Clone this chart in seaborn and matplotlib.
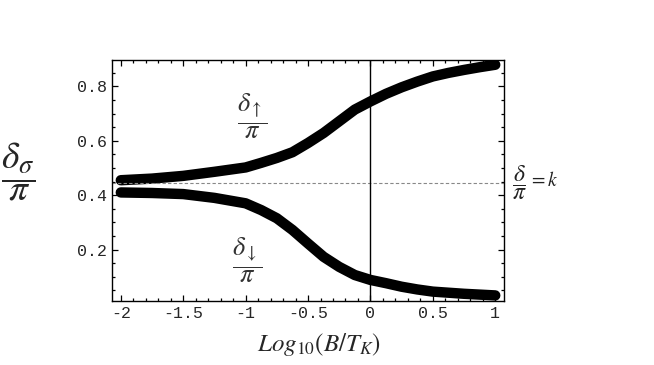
import matplotlib
matplotlib.use("Agg")
import matplotlib.pyplot as plt
from matplotlib.ticker import MultipleLocator
import seaborn as sns
import pandas as pd

# values
log_b = [-2.0, -1.75, -1.5, -1.25, -1.0, -0.875, -0.75, -0.625, -0.5, -0.375, -0.25, -0.125,
         0.0, 0.125, 0.25, 0.375, 0.5, 0.625, 0.75, 0.875, 1.0]
delta_up = [0.455, 0.461, 0.471, 0.486, 0.502, 0.519, 0.537, 0.558, 0.592, 0.629, 0.672, 0.715,
            0.745, 0.773, 0.797, 0.818, 0.837, 0.85, 0.861, 0.871, 0.88]
delta_down = [0.41, 0.408, 0.404, 0.39, 0.37, 0.345, 0.315, 0.272, 0.222, 0.173, 0.136, 0.106,
              0.088, 0.076, 0.063, 0.053, 0.045, 0.041, 0.037, 0.034, 0.031]
k_level = 0.445

x_ticks = [-2, -1.5, -1, -0.5, 0, 0.5, 1]
x_tick_labels = ["-2", "-1.5", "-1", "-0.5", "0", "0.5", "1"]
y_ticks = [0.2, 0.4, 0.6, 0.8]
y_tick_labels = ["0.2", "0.4", "0.6", "0.8"]

sns.set_style("ticks")
plt.rcParams["mathtext.fontset"] = "stix"
plt.rcParams["font.family"] = ["DejaVu Sans"]

df = pd.DataFrame({"x": log_b, "up": delta_up, "down": delta_down})

fig = plt.figure(figsize=(6.54, 3.65), dpi=100)
ax = fig.add_axes([0.171, 0.175, 0.600, 0.661])

# dicke Kurven
for col in ["up", "down"]:
    sns.lineplot(data=df, x="x", y=col, color="black", lw=7.5, ax=ax,
                 solid_capstyle="round", solid_joinstyle="round", sort=False)

ax.axhline(k_level, color="#888888", lw=0.8, ls=(0, (3, 2)))
ax.axvline(0, color="black", lw=1.0)

ax.set_xlim(-2.072, 1.072)
ax.set_ylim(0.01, 0.898)

ax.set_xticks(x_ticks)
ax.set_xticklabels(x_tick_labels)
ax.set_yticks(y_ticks)
ax.set_yticklabels(y_tick_labels)
ax.xaxis.set_minor_locator(MultipleLocator(0.1))
ax.yaxis.set_minor_locator(MultipleLocator(0.05))
ax.tick_params(which="both", direction="in", top=True, right=True, color="black", width=0.9)
ax.tick_params(which="major", length=4)
ax.tick_params(which="minor", length=2)
for lab in ax.get_xticklabels() + ax.get_yticklabels():
    lab.set_family("Liberation Mono")
    lab.set_fontsize(12)
for sp in ax.spines.values():
    sp.set_color("black")
    sp.set_linewidth(1.0)

ax.set_xlabel("")
ax.set_ylabel("")

# Beschriftungen
ax.text(-0.95, 0.69, r"$\dfrac{\delta_\uparrow}{\pi}$", fontsize=19, color="#333333",
        ha="center", va="center")
ax.text(-0.99, 0.161, r"$\dfrac{\delta_\downarrow}{\pi}$", fontsize=19, color="#333333",
        ha="center", va="center")
# δ/π = k rechts neben der Achse
ax.text(1.19, k_level, r"$\dfrac{\delta}{\pi}$", fontsize=17, color="#222222",
        ha="center", va="center", clip_on=False)
ax.text(1.27, k_level + 0.008, r"$= k$", fontsize=14, color="#222222",
        ha="left", va="center", clip_on=False)

fig.text(0.028, 0.53, r"$\dfrac{\delta_\sigma}{\pi}$", fontsize=27, ha="center", va="center")
fig.text(0.488, 0.055, r"$Log_{10}(B/T_K)$", fontsize=18, ha="center", va="center")

fig.savefig("out.png", dpi=100)
